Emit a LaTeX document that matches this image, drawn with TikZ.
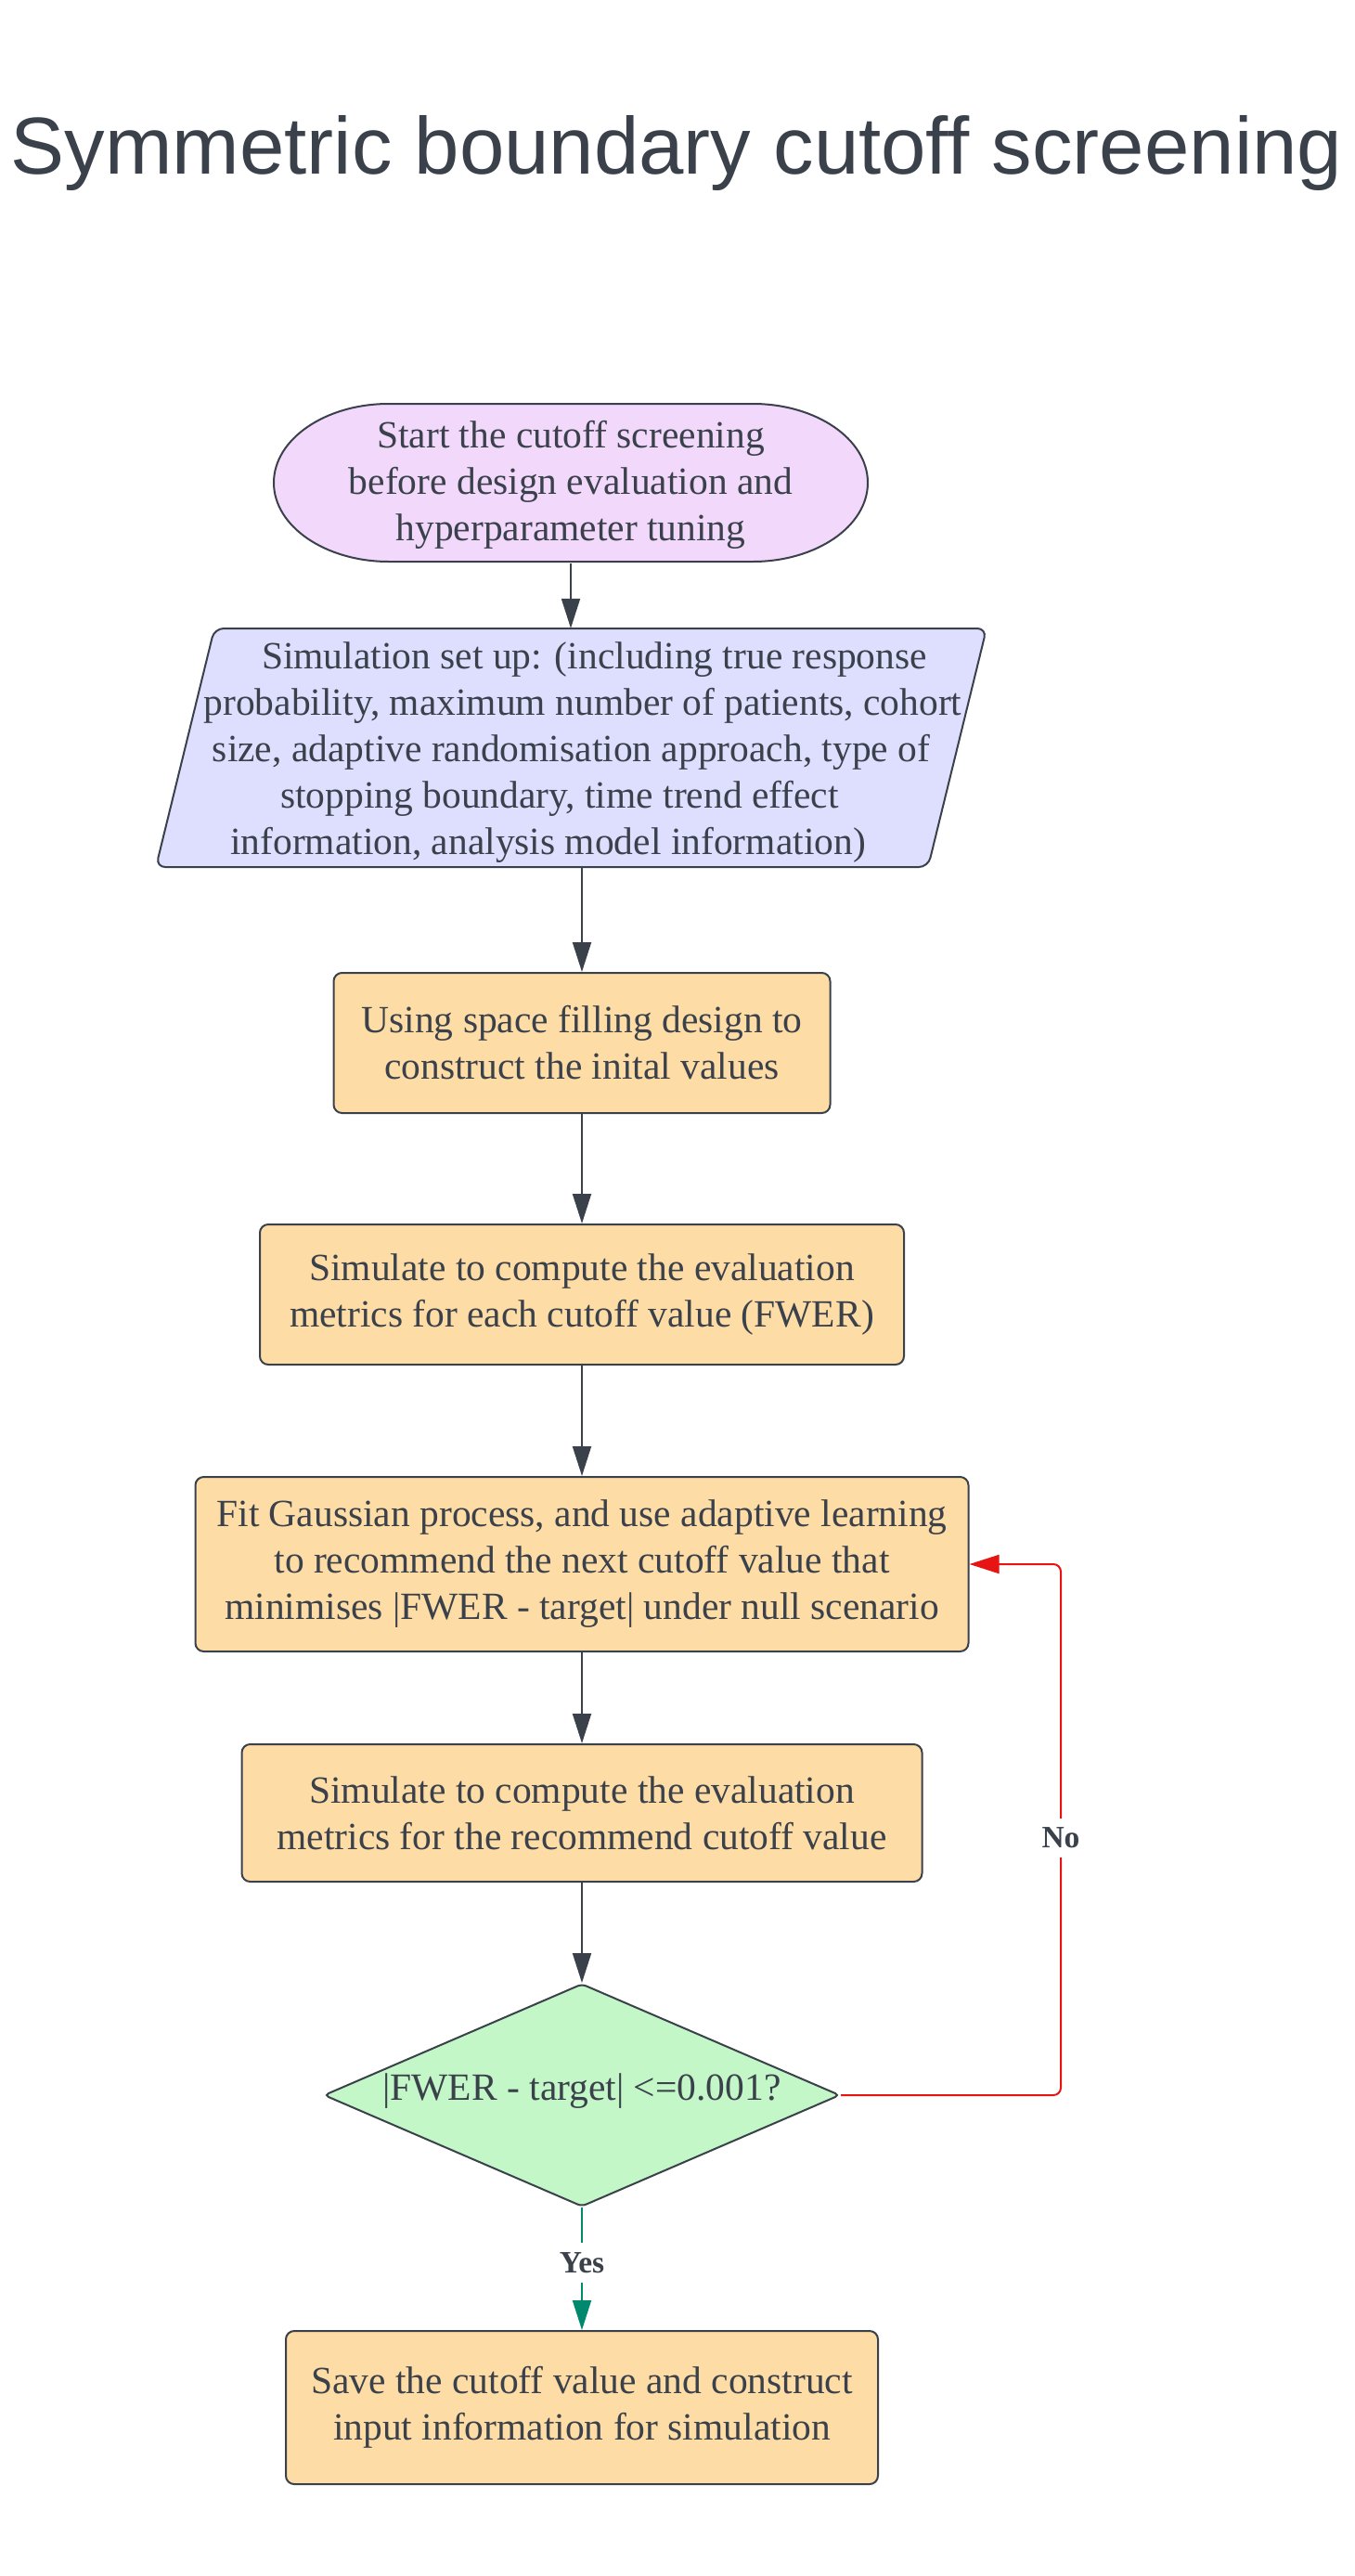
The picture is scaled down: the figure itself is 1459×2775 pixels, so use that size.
\documentclass[tikz,border=0pt]{standalone}
\usepackage{fontspec}
\setmainfont{Liberation Serif}
\newfontfamily\titlefont{Liberation Sans}
\usetikzlibrary{arrows.meta,shapes.geometric,backgrounds}
\definecolor{inkc}{HTML}{3A414A}
\definecolor{startfill}{HTML}{F2D9FC}
\definecolor{setupfill}{HTML}{DEDFFF}
\definecolor{orangec}{HTML}{FEDCA6}
\definecolor{greenc}{HTML}{C3F7C8}
\definecolor{redc}{HTML}{E81313}
\definecolor{tealc}{HTML}{00896F}
\begin{document}
\begin{tikzpicture}[x=1pt,y=-1pt,
  bodyfont/.style={font=\fontsize{41.5}{50}\selectfont, text=inkc, align=center},
  procbox/.style={bodyfont, draw=inkc, line width=2pt, rectangle, rounded corners=9pt, fill=orangec, inner sep=0pt},
  decbox/.style={bodyfont, draw=inkc, line width=2pt, diamond, aspect=2.317, rounded corners=5pt, fill=greenc, inner sep=0pt, minimum width=556pt, minimum height=240pt, text height=31pt, text depth=21pt},
  plain/.style={bodyfont, inner sep=0pt},
  arr/.style={draw=inkc, line width=2pt, -{Triangle[length=32pt,width=20pt]}},
  redarr/.style={draw=redc, line width=2pt, rounded corners=8pt, -{Triangle[length=32pt,width=20pt]}},
  greenarr/.style={draw=tealc, line width=2pt, -{Triangle[length=32pt,width=20pt]}},
  edgelabel/.style={font=\fontsize{33.5}{38}\selectfont\bfseries, text=inkc, fill=white, inner xsep=4pt, inner ysep=10pt},
  titlestyle/.style={font=\titlefont\fontsize{87}{100}\selectfont, text=inkc, inner sep=0pt}
]
\fill[white] (0,0) rectangle (1459,2775);
\useasboundingbox (0,0) rectangle (1459,2775);

% title
\node[titlestyle, anchor=base] (title) at (729,188) {Symmetric boundary cutoff screening};

% start terminator (elliptical ends)
\filldraw[fill=startfill, draw=inkc, line width=2pt]
  (419,435) -- (811,435) arc[start angle=270, end angle=450, x radius=124, y radius=85]
  -- (419,605) arc[start angle=90, end angle=270, x radius=124, y radius=85] -- cycle;
\node[plain, minimum width=640pt, minimum height=170pt] (start) at (615,522)
  {Start the cutoff screening\\before design evaluation and\\hyperparameter tuning};

% setup parallelogram
\filldraw[fill=setupfill, draw=inkc, line width=2pt, rounded corners=10pt]
  (231,677) -- (1063,677) -- (1000,934) -- (168,934) -- cycle;
\node[plain, minimum height=257pt] (setup) at (615.5,805.5)
  {\rule{0pt}{39pt}\rule{50pt}{0pt}Simulation set up: (including true response\\
   \rule{25pt}{0pt}probability, maximum number of patients, cohort\\
   size, adaptive randomisation approach, type of\\
   stopping boundary, time trend effect\rule{25pt}{0pt}\\
   information, analysis model information)\rule{50pt}{0pt}};

% process boxes
\node[procbox, minimum width=535pt, minimum height=151pt] (init) at (627,1123.5)
  {Using space filling design to\\construct the inital values};
\node[procbox, minimum width=694pt, minimum height=151pt] (sim1) at (627,1394.5)
  {Simulate to compute the evaluation\\metrics for each cutoff value (FWER)};
\node[procbox, minimum width=833pt, minimum height=188pt] (gp) at (627,1685)
  {Fit Gaussian process, and use adaptive learning\\to recommend the next cutoff value that\\minimises |FWER - target| under null scenario};
\node[procbox, minimum width=733pt, minimum height=148pt] (sim2) at (627,1953)
  {Simulate to compute the evaluation\\metrics for the recommend cutoff value};
\node[decbox] (dec) at (627,2257) {|FWER - target| <=0.001?};
\node[procbox, minimum width=638pt, minimum height=165pt] (save) at (627,2593.5)
  {Save the cutoff value and construct\\input information for simulation};

% connectors
\draw[arr] (start) -- (start |- setup.north);
\draw[arr] (init.north |- setup.south) -- (init);
\draw[arr] (init) -- (sim1);
\draw[arr] (sim1) -- (gp);
\draw[arr] (gp) -- (sim2);
\draw[arr] (sim2) -- (dec);

\coordinate (loop) at (1143,1980);
\draw[redarr] (dec.east) -| (loop) |- (gp.east);
\node[edgelabel] (no) at (loop) {No};

\draw[greenarr] (dec.south) -- node[edgelabel, pos=0.45] (yes) {Yes} (save.north);
\end{tikzpicture}
\end{document}
